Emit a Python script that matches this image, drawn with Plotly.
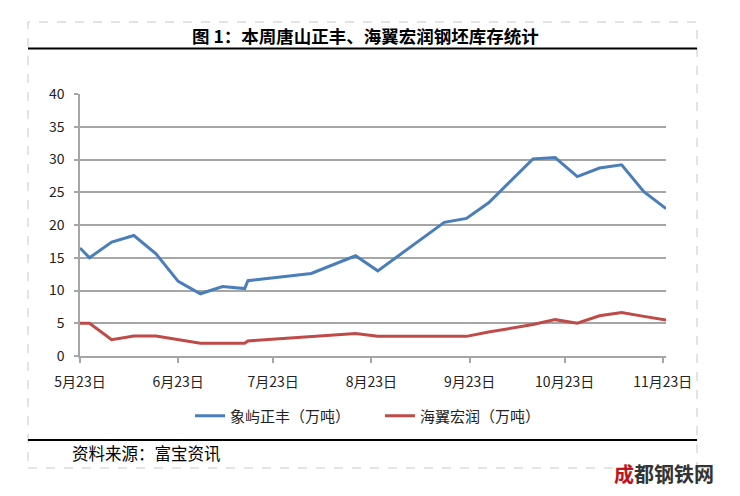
import plotly.graph_objects as go

# ---- data ----
dates = ["2013-05-23", "2013-05-26", "2013-06-02", "2013-06-09", "2013-06-16",
         "2013-06-23", "2013-06-30", "2013-07-07", "2013-07-14", "2013-07-15",
         "2013-08-04", "2013-08-18", "2013-08-25", "2013-09-08", "2013-09-15",
         "2013-09-22", "2013-09-29", "2013-10-13", "2013-10-20", "2013-10-27",
         "2013-11-03", "2013-11-10", "2013-11-17", "2013-11-24"]
xiangyu = [16.5, 15.0, 17.4, 18.4, 15.6, 11.4, 9.5, 10.6, 10.3, 11.5,
           12.6, 15.3, 13.0, 17.9, 20.4, 21.0, 23.4, 30.1, 30.3, 27.4,
           28.7, 29.2, 25.1, 22.5]
haiyi = [5.0, 5.0, 2.5, 3.05, 3.05, 2.55, 1.95, 1.95, 1.95, 2.3,
         3.0, 3.45, 3.0, 3.0, 3.0, 3.0, 3.65, 4.8, 5.55, 5.0,
         6.15, 6.65, 6.05, 5.5]
series_names = ["象屿正丰（万吨）", "海翼宏润（万吨）"]
tick_dates = ["2013-05-23", "2013-06-23", "2013-07-23", "2013-08-23",
              "2013-09-23", "2013-10-23", "2013-11-23"]
tick_labels = ["5月23日", "6月23日", "7月23日", "8月23日", "9月23日", "10月23日", "11月23日"]
y_ticks = [0, 5, 10, 15, 20, 25, 30, 35, 40]
title_text = "图 1：本周唐山正丰、海翼宏润钢坯库存统计"
source_text = "资料来源：富宝资讯"

# ---- geometry (page pixels; page body has an 8px margin) ----
OFF = 8
W, H = 740 - OFF, 496 - OFF
PL, PR, PT, PB = 80, 666, 94, 356   # plot area in page pixels


def px(x):
    return (x - PL) / (PR - PL)


def py(y):
    return (PB - y) / (PB - PT)


FONT = "Noto Sans CJK SC"
GRID = "#a6a6a6"

fig = go.Figure()
fig.add_trace(go.Scatter(x=dates, y=xiangyu, mode="lines", name=series_names[0],
                         line=dict(color="#4a7ebb", width=3)))
fig.add_trace(go.Scatter(x=dates, y=haiyi, mode="lines", name=series_names[1],
                         line=dict(color="#be4b48", width=3)))

fig.update_layout(
    width=W, height=H,
    margin=dict(l=PL - OFF, r=W - (PR - OFF), t=PT - OFF, b=H - (PB - OFF), pad=0),
    paper_bgcolor="white", plot_bgcolor="white",
    font=dict(family=FONT, size=13, color="#222"),
    showlegend=True,
    legend=dict(orientation="h", x=px(190), xanchor="left", y=py(416), yanchor="middle",
                font=dict(size=15, color="#222"), itemwidth=30,
                entrywidth=145, entrywidthmode="pixels",
                bgcolor="rgba(0,0,0,0)"),
    xaxis=dict(type="date", range=["2013-05-23", "2013-11-24"],
               tickmode="array", tickvals=tick_dates, ticktext=tick_labels,
               showgrid=False, zeroline=False,
               showline=True, linecolor=GRID, linewidth=1.5,
               ticks="outside", ticklen=5, tickcolor=GRID, tickwidth=1.5,
               ticklabelstandoff=7,
               tickfont=dict(size=14, color="#222")),
    yaxis=dict(range=[0, 40], tickmode="array", tickvals=y_ticks,
               showgrid=True, gridcolor=GRID, gridwidth=1.5, zeroline=False,
               showline=True, linecolor=GRID, linewidth=1.5,
               ticks="outside", ticklen=4, tickcolor=GRID, tickwidth=1.5,
               ticklabelstandoff=7,
               tickfont=dict(size=14, color="#222")),
)

shapes = [
    # dashed frame
    dict(type="rect", xref="paper", yref="paper",
         x0=px(28), x1=px(697), y0=py(468), y1=py(22),
         line=dict(color="#c8c8c8", width=1, dash="dash"), layer="below"),
    # title separator
    dict(type="line", xref="paper", yref="paper",
         x0=px(28), x1=px(697), y0=py(48.5), y1=py(48.5),
         line=dict(color="black", width=2)),
    # source separator
    dict(type="line", xref="paper", yref="paper",
         x0=px(28), x1=px(697), y0=py(440), y1=py(440),
         line=dict(color="black", width=2)),
]
fig.update_layout(shapes=shapes)

annotations = [
    dict(text="<b>" + title_text + "</b>", xref="paper", yref="paper",
         x=px(365), y=py(35), xanchor="center", yanchor="middle",
         showarrow=False, font=dict(family=FONT, size=17.5, color="black")),
    dict(text=source_text, xref="paper", yref="paper",
         x=px(70), y=py(453), xanchor="left", yanchor="middle",
         showarrow=False, font=dict(family=FONT, size=16.5, color="black")),
    dict(text="<b><span style='color:#c0141c'>成</span>都钢铁网</b>", xref="paper", yref="paper",
         x=px(664), y=py(473), xanchor="center", yanchor="middle",
         showarrow=False, font=dict(family=FONT, size=20, color="#333")),
]
fig.update_layout(annotations=annotations)

fig.write_html("out.html")
